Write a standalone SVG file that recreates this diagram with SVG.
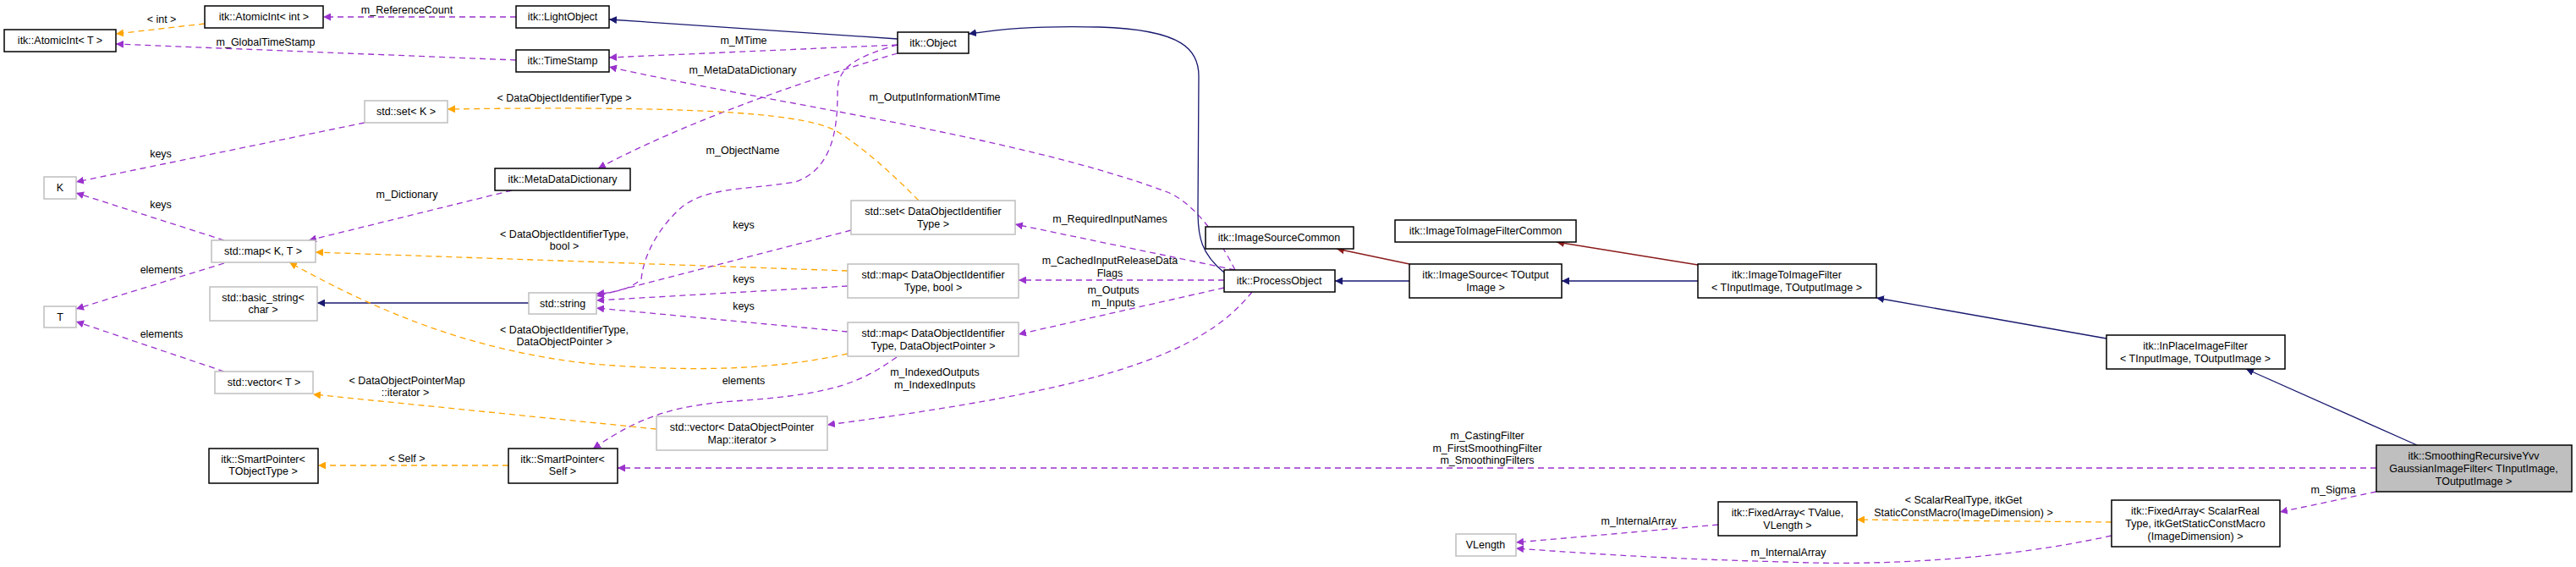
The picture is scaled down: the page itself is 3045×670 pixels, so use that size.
<svg xmlns="http://www.w3.org/2000/svg" width="3045" height="670" viewBox="0 0 3045 670">
<defs>
<style>
text{font-family:"Liberation Sans",Arial,sans-serif;font-size:12.5px;fill:#000;text-anchor:middle}
.n rect{fill:#fff;stroke:#000;stroke-width:1.5}
.g rect{fill:#fff;stroke:#bfbfbf;stroke-width:1.5}
.s rect{fill:#bfbfbf;stroke:#000;stroke-width:1.5}
.p{fill:none;stroke:#9a32cd;stroke-dasharray:7,5;stroke-width:1.3;marker-end:url(#mp)}
.o{fill:none;stroke:#ffa500;stroke-dasharray:7,5;stroke-width:1.3;marker-end:url(#mo)}
.b{fill:none;stroke:#191970;stroke-width:1.3;marker-end:url(#mb)}
.r{fill:none;stroke:#8b1a1a;stroke-width:1.3;marker-end:url(#mr)}
</style>
<marker id="mp" viewBox="0 0 10 10" refX="10" refY="5" markerWidth="9" markerHeight="9" orient="auto" markerUnits="userSpaceOnUse"><path d="M0,0L10,5L0,10z" fill="#9a32cd"/></marker>
<marker id="mo" viewBox="0 0 10 10" refX="10" refY="5" markerWidth="9" markerHeight="9" orient="auto" markerUnits="userSpaceOnUse"><path d="M0,0L10,5L0,10z" fill="#ffa500"/></marker>
<marker id="mb" viewBox="0 0 10 10" refX="10" refY="5" markerWidth="9" markerHeight="9" orient="auto" markerUnits="userSpaceOnUse"><path d="M0,0L10,5L0,10z" fill="#191970"/></marker>
<marker id="mr" viewBox="0 0 10 10" refX="10" refY="5" markerWidth="9" markerHeight="9" orient="auto" markerUnits="userSpaceOnUse"><path d="M0,0L10,5L0,10z" fill="#8b1a1a"/></marker>
</defs>
<rect width="3045" height="670" fill="#fff"/>
<g id="edges">
<path class="p" d="M610,20L382,20"/><text x="481" y="16">m_ReferenceCount</text>
<path class="o" d="M242,28L137,40"/><text x="191" y="27">&lt; int &gt;</text>
<path class="p" d="M610,71L137,52"/><text x="314" y="54">m_GlobalTimeStamp</text>
<path class="b" d="M1061,46L720,23"/>
<path class="p" d="M1061,53L720,68"/><text x="879" y="52">m_MTime</text>
<path class="p" d="M1460,319C1430,260 1400,235 1380,227C1200,160 900,120 720,79"/><text x="1105" y="119">m_OutputInformationMTime</text>
<path class="p" d="M1061,63C900,110 780,160 707,199"/><text x="878" y="87">m_MetaDataDictionary</text>
<path class="p" d="M1061,53C1000,70 990,85 990,110C990,150 985,200 940,215C880,225 830,220 800,250C770,280 760,310 758,330C740,345 720,346 705,347"/><text x="878" y="182">m_ObjectName</text>
<path class="p" d="M431,145L90,215"/><text x="190" y="186">keys</text>
<path class="p" d="M265,284L90,228"/><text x="190" y="246">keys</text>
<path class="p" d="M265,311L90,365"/><text x="191" y="323">elements</text>
<path class="p" d="M265,439L90,380"/><text x="191" y="399">elements</text>
<path class="p" d="M605,225L365,284"/><text x="481" y="234">m_Dictionary</text>
<path class="b" d="M625,358L375,358"/>
<path class="o" d="M1086,237C1040,190 1000,160 985,153C940,132 800,125 529,129"/><text x="667" y="120">&lt; DataObjectIdentifierType &gt;</text>
<path class="o" d="M1002,320L373,298"/><text x="667" y="281">&lt; DataObjectIdentifierType,</text><text x="667" y="295">bool &gt;</text>
<path class="o" d="M1002,418C900,440 800,438 700,430C560,415 450,370 342,310"/><text x="667" y="394">&lt; DataObjectIdentifierType,</text><text x="667" y="408">DataObjectPointer &gt;</text>
<path class="p" d="M1006,272L705,350"/><text x="879" y="270">keys</text>
<path class="p" d="M1002,338L705,355"/><text x="879" y="334">keys</text>
<path class="p" d="M1002,392L705,364"/><text x="879" y="366">keys</text>
<path class="p" d="M1060,422C1020,450 990,465 882,473C800,478 760,490 701,530"/><text x="879" y="454">elements</text>
<path class="o" d="M776,507L370,466"/><text x="481" y="454">&lt; DataObjectPointerMap</text><text x="479" y="468">::iterator &gt;</text>
<path class="o" d="M601,550L376,550"/><text x="481" y="546">&lt; Self &gt;</text>
<path class="p" d="M1460,319L1200,265"/><text x="1312" y="263">m_RequiredInputNames</text>
<path class="p" d="M1447,331L1204,331"/><text x="1312" y="312">m_CachedInputReleaseData</text><text x="1312" y="327">Flags</text>
<path class="p" d="M1447,340L1204,395"/><text x="1316" y="347">m_Outputs</text><text x="1316" y="362">m_Inputs</text>
<path class="p" d="M1480,345C1420,420 1300,460 978,502"/><text x="1105" y="444">m_IndexedOutputs</text><text x="1105" y="459">m_IndexedInputs</text>
<path class="b" d="M1447,322C1420,300 1416,280 1416,250L1417,90C1417,60 1400,35 1300,32C1220,30 1180,35 1145,40"/>
<path class="b" d="M1666,332L1578,332"/>
<path class="r" d="M1666,312L1580,294"/>
<path class="b" d="M2007,332L1846,332"/>
<path class="r" d="M2007,313L1840,286"/>
<path class="b" d="M2490,400L2218,352"/>
<path class="b" d="M2857,526L2655,436"/>
<path class="p" d="M2809,553L730,553"/><text x="1758" y="519">m_CastingFilter</text><text x="1758" y="534">m_FirstSmoothingFilter</text><text x="1758" y="548">m_SmoothingFilters</text>
<path class="p" d="M2809,581L2695,605"/><text x="2758" y="583">m_Sigma</text>
<path class="o" d="M2496,617L2195,614"/><text x="2321" y="595">&lt; ScalarRealType, itkGet</text><text x="2321" y="610">StaticConstMacro(ImageDimension) &gt;</text>
<path class="p" d="M2031,620L1792,641"/><text x="1937" y="620">m_InternalArray</text>
<path class="p" d="M2496,633C2350,665 2200,668 2110,664C1950,660 1850,652 1792,648"/><text x="2114" y="657">m_InternalArray</text>
</g>
<g id="n1" class="n"><rect x="5" y="35" width="132" height="26"/><text x="71" y="52">itk::AtomicInt&lt; T &gt;</text></g>
<g id="n2" class="n"><rect x="242" y="7" width="140" height="26"/><text x="312" y="24">itk::AtomicInt&lt; int &gt;</text></g>
<g id="n3" class="n"><rect x="610" y="7" width="110" height="26"/><text x="665" y="24">itk::LightObject</text></g>
<g id="n4" class="n"><rect x="610" y="59" width="110" height="26"/><text x="665" y="76">itk::TimeStamp</text></g>
<g id="n5" class="n"><rect x="1061" y="38" width="84" height="25"/><text x="1103" y="55">itk::Object</text></g>
<g id="n6" class="g"><rect x="431" y="119" width="98" height="26"/><text x="480" y="136">std::set&lt; K &gt;</text></g>
<g id="n7" class="g"><rect x="52" y="209" width="38" height="26"/><text x="71" y="226">K</text></g>
<g id="n8" class="n"><rect x="585" y="199" width="160" height="26"/><text x="665" y="216">itk::MetaDataDictionary</text></g>
<g id="n9" class="g"><rect x="250" y="284" width="123" height="26"/><text x="311" y="301">std::map&lt; K, T &gt;</text></g>
<g id="n10" class="g"><rect x="52" y="362" width="38" height="25"/><text x="71" y="379">T</text></g>
<g id="n11" class="g"><rect x="248" y="339" width="127" height="40"/><text x="311" y="356">std::basic_string&lt;</text><text x="311" y="370">char &gt;</text></g>
<g id="n12" class="g"><rect x="625" y="346" width="80" height="25"/><text x="665" y="363">std::string</text></g>
<g id="n13" class="g"><rect x="254" y="439" width="116" height="26"/><text x="312" y="456">std::vector&lt; T &gt;</text></g>
<g id="n14" class="n"><rect x="247" y="530" width="129" height="41"/><text x="311" y="547">itk::SmartPointer&lt;</text><text x="311" y="561">TObjectType &gt;</text></g>
<g id="n15" class="n"><rect x="601" y="530" width="129" height="41"/><text x="665" y="547">itk::SmartPointer&lt;</text><text x="665" y="561">Self &gt;</text></g>
<g id="n16" class="g"><rect x="1006" y="237" width="194" height="40"/><text x="1103" y="254">std::set&lt; DataObjectIdentifier</text><text x="1103" y="269">Type &gt;</text></g>
<g id="n17" class="g"><rect x="1002" y="312" width="202" height="40"/><text x="1103" y="329">std::map&lt; DataObjectIdentifier</text><text x="1103" y="344">Type, bool &gt;</text></g>
<g id="n18" class="g"><rect x="1002" y="381" width="202" height="40"/><text x="1103" y="398">std::map&lt; DataObjectIdentifier</text><text x="1103" y="413">Type, DataObjectPointer &gt;</text></g>
<g id="n19" class="g"><rect x="776" y="492" width="202" height="40"/><text x="877" y="509">std::vector&lt; DataObjectPointer</text><text x="877" y="524">Map::iterator &gt;</text></g>
<g id="n20" class="n"><rect x="1425" y="268" width="175" height="26"/><text x="1512" y="285">itk::ImageSourceCommon</text></g>
<g id="n21" class="n"><rect x="1447" y="319" width="131" height="26"/><text x="1512" y="336">itk::ProcessObject</text></g>
<g id="n22" class="n"><rect x="1649" y="260" width="214" height="26"/><text x="1756" y="277">itk::ImageToImageFilterCommon</text></g>
<g id="n23" class="n"><rect x="1666" y="312" width="180" height="40"/><text x="1756" y="329">itk::ImageSource&lt; TOutput</text><text x="1756" y="344">Image &gt;</text></g>
<g id="n24" class="n"><rect x="2007" y="312" width="211" height="40"/><text x="2112" y="329">itk::ImageToImageFilter</text><text x="2112" y="344">&lt; TInputImage, TOutputImage &gt;</text></g>
<g id="n25" class="n"><rect x="2490" y="396" width="211" height="40"/><text x="2595" y="413">itk::InPlaceImageFilter</text><text x="2595" y="428">&lt; TInputImage, TOutputImage &gt;</text></g>
<g id="n26" class="s"><rect x="2809" y="526" width="231" height="55"/><text x="2924" y="543">itk::SmoothingRecursiveYvv</text><text x="2924" y="558">GaussianImageFilter&lt; TInputImage,</text><text x="2924" y="573">TOutputImage &gt;</text></g>
<g id="n27" class="n"><rect x="2496" y="591" width="199" height="55"/><text x="2595" y="608">itk::FixedArray&lt; ScalarReal</text><text x="2595" y="623">Type, itkGetStaticConstMacro</text><text x="2595" y="638">(ImageDimension) &gt;</text></g>
<g id="n28" class="n"><rect x="2031" y="593" width="164" height="40"/><text x="2113" y="610">itk::FixedArray&lt; TValue,</text><text x="2113" y="625">VLength &gt;</text></g>
<g id="n29" class="g"><rect x="1721" y="631" width="71" height="26"/><text x="1756" y="648">VLength</text></g>
</svg>
